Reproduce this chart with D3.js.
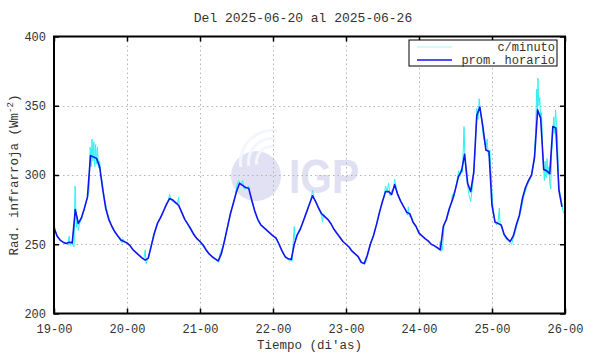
<!DOCTYPE html>
<html>
<head>
<meta charset="utf-8">
<script src="https://cdn.jsdelivr.net/npm/d3@7"></script>
<style>
  html, body { margin: 0; padding: 0; background: #ffffff; }
  svg { display: block; }
  text { font-family: "Liberation Mono", "DejaVu Sans Mono", monospace; fill: #333; }
</style>
</head>
<body>
<svg id="chart" width="590" height="354"></svg>
<script>
// ---------- data ----------
const titleText = "Del 2025-06-20 al 2025-06-26";
const xTickLabels = ["19-00", "20-00", "21-00", "22-00", "23-00", "24-00", "25-00", "26-00"];
const yTicks = [200, 250, 300, 350, 400];
const seriesNames = ["c/minuto", "prom. horario"];

// hourly average (prom. horario), one value per hour starting 19-00
const hourly = [
  262, 256, 253, 251.5, 250.5, 251.5, 251, 275, 265, 269, 276, 284, 314, 313, 312, 306, 290, 276, 268, 263, 259, 256, 253, 252,
  251, 249, 246, 244, 242, 240, 238.5, 240, 249, 258, 265, 269, 274, 279, 283, 282, 280, 278, 273, 268, 264.5, 261, 257, 254,
  252, 249.5, 246, 243, 241, 239.5, 238, 243, 252, 262, 272, 280, 288, 294, 292.5, 291, 290.5, 282, 274, 268, 264, 262, 260, 258,
  256, 254.5, 250, 245, 241, 239.5, 239, 250, 257, 261, 267, 273, 279, 285, 281, 276, 272, 270, 268, 265, 261, 258, 255, 252,
  250, 248, 245, 243, 241, 237, 236, 242, 250, 256, 264, 273, 281, 288, 288, 286, 293, 286, 281, 277, 273, 272, 266, 263,
  258, 256, 254, 252.5, 250, 249, 247.5, 246, 263, 268, 276, 282, 290, 299, 303, 315, 294, 288, 302, 343, 349, 335, 318, 317,
  278, 266, 265, 264, 257, 254, 252, 256, 264, 271, 283, 291, 296, 300, 313, 347, 341, 304, 303, 301, 335, 334, 289, 277
];

// per-minute series (c/minuto), sampled as [hour, value]
const minuteHours = [
  0, 0.5, 1.5, 2.5, 3.5, 4.5, 5, 5.3, 5.8, 6.2, 6.6, 6.9, 7.1, 7.3, 7.6, 8, 8.4, 9, 9.5, 10.5, 11.5, 11.9, 12.2, 12.5, 12.8, 13.1, 13.4, 13.7, 14, 14.3, 14.6, 15, 15.4, 15.8, 16.5, 17.5, 18.5, 19.5, 20.5, 21.5, 22.3, 22.6, 23.5,
  24.5, 25.5, 26.5, 27.5, 28.5, 29.5, 30, 30.3, 30.8, 31.5, 32.5, 33.5, 34.5, 35.5, 36.5, 37.5, 38, 38.5, 39.5, 40.5, 41, 41.2, 41.5, 42.5, 43.5, 44.5, 45.5, 46.5, 47.5,
  48.5, 49.5, 50.5, 51.5, 52.5, 53.5, 54.2, 54.5, 55.5, 56.5, 57.5, 58.5, 59.5, 60.3, 60.7, 61.5, 62, 62.5, 63.5, 64, 64.5, 65.5, 66.5, 67.5, 68.5, 69.5, 70.5, 71.5,
  72.5, 73.5, 74.5, 75.5, 76.5, 77.5, 78.3, 78.6, 79, 79.2, 80, 80.5, 81.5, 82.5, 83.5, 84.5, 85, 85.5, 86.5, 87.5, 88, 88.3, 88.6, 89.5, 90.5, 91.5, 92.5, 93.5, 94.5, 95.5,
  96.5, 97.5, 98.5, 99.5, 100.5, 101.5, 102.2, 102.8, 103.5, 104.5, 105.5, 106.5, 107.5, 108.5, 109, 109.5, 110, 110.5, 111, 111.6, 112, 112.4, 113, 113.8, 114.5, 115.5, 116.2, 116.5, 116.8, 117.5, 118.5, 119.5,
  120.5, 121.5, 122.5, 123.5, 124.5, 125.5, 126.5, 127, 127.3, 127.7, 128.3, 129, 129.5, 130.5, 131, 131.5, 132.5, 133, 133.4, 133.8, 134.3, 134.8, 135.1, 135.5, 136, 136.5, 137, 137.5, 138, 138.5, 139, 139.4, 139.8, 140.2, 140.6, 141, 141.5, 142, 142.4, 142.8, 143.3, 143.8,
  144.2, 144.6, 145, 145.5, 146, 146.4, 146.7, 147.2, 147.8, 148.5, 149.5, 150.5, 150.8, 151.5, 152.5, 153.5, 154.5, 155.5, 156.5, 157.2, 157.8, 158.3, 158.7, 158.9, 159.1, 159.4, 159.7, 160, 160.3, 160.6, 160.9, 161.2, 161.5, 161.8, 162.1, 162.4, 162.7, 163, 163.3, 163.6, 164, 164.3, 164.6, 164.9, 165.2, 165.5, 165.8, 166.1, 166.5, 166.9, 167.3, 167.8
];
const minuteValues = [
  266, 259, 254, 252, 251, 250, 256, 249, 252, 250, 248, 292, 285, 262, 270, 260, 265, 268, 272, 280, 288, 320, 306, 326, 310, 324, 306, 322, 308, 320, 305, 310, 300, 296, 284, 273, 266, 261, 257, 254, 251, 254, 251,
  250, 247, 245, 243, 241, 239, 246, 236, 239, 245, 255, 262, 268, 271, 276, 281, 286, 282, 280, 279, 284, 276, 276, 270, 266, 262, 258, 255, 253,
  250, 247, 244, 242, 240, 238, 237, 243, 248, 257, 267, 276, 284, 294, 296, 293, 296, 290, 291, 292, 286, 278, 270, 265, 263, 261, 259, 257,
  255, 252, 247, 243, 240, 238, 238, 250, 263, 253, 257, 260, 264, 270, 276, 283, 289, 283, 279, 274, 270, 266, 272, 269, 267, 263, 259, 256, 253, 251,
  249, 246, 244, 242, 239, 236, 236, 239, 246, 253, 260, 268, 277, 284, 292, 288, 294, 285, 289, 290, 297, 292, 286, 282, 279, 275, 271, 277, 270, 270, 264, 261,
  257, 255, 253, 251, 249.5, 248, 246, 252, 245, 246, 265, 267, 271, 279, 286, 284, 296, 303, 299, 304, 302, 335, 312, 300, 292, 285, 281, 290, 300, 320, 348, 340, 355, 345, 340, 330, 324, 320, 326, 314, 318, 296,
  280, 272, 266, 264, 266, 276, 264, 262, 258, 254, 252, 250, 253, 258, 266, 274, 285, 292, 297, 302, 310, 330, 362, 345, 370, 350, 356, 340, 345, 320, 308, 296, 310, 298, 312, 300, 306, 294, 290, 315, 330, 342, 330, 347, 338, 330, 300, 290, 285, 280, 274, 272
];

// ---------- chart ----------
const svg = d3.select("#chart");
const mLeft = 54, mRight = 565, mTop = 36.5, mBottom = 313.5;

const x = d3.scaleLinear().domain([0, 168]).range([mLeft, mRight]);
const y = d3.scaleLinear().domain([200, 400]).range([mBottom, mTop]);
const xTickVals = xTickLabels.map((d, i) => i * 24);

// watermark logo
const wm = svg.append("g").attr("class", "watermark");
wm.append("circle").attr("cx", 256).attr("cy", 176).attr("r", 25).attr("fill", "#e1e1f3");
[14, 22, 30].forEach((r) => {
  wm.append("path")
    .attr("d", d3.arc()({innerRadius: r, outerRadius: r + 3, startAngle: -Math.PI * 0.55, endAngle: Math.PI * 0.05}))
    .attr("transform", "translate(272,162)")
    .attr("fill", "#f3f6fd");
});
wm.append("text")
  .attr("x", 289).attr("y", 193)
  .attr("textLength", 70).attr("lengthAdjust", "spacingAndGlyphs")
  .style("font-family", "Liberation Sans, Arial, sans-serif")
  .style("font-weight", "bold").style("font-size", "48px")
  .style("fill", "#e0e0f2")
  .text("IGP");

// grid
const grid = svg.append("g").attr("stroke", "#b4b4b4").attr("stroke-width", 1).attr("stroke-dasharray", "1.5,3");
xTickVals.slice(1, -1).forEach(v => {
  grid.append("line").attr("x1", Math.round(x(v)) + 0.5).attr("x2", Math.round(x(v)) + 0.5).attr("y1", mTop).attr("y2", mBottom);
});
yTicks.slice(1, -1).forEach(v => {
  grid.append("line").attr("x1", mLeft).attr("x2", mRight).attr("y1", Math.round(y(v)) + 0.5).attr("y2", Math.round(y(v)) + 0.5);
});

// data lines
svg.append("clipPath").attr("id", "clip").append("rect")
  .attr("x", mLeft).attr("y", mTop).attr("width", mRight - mLeft).attr("height", mBottom - mTop);
const plot = svg.append("g").attr("clip-path", "url(#clip)");

const minutePts = minuteHours.map((h, i) => [h, minuteValues[i]]);
plot.append("path")
  .datum(minutePts)
  .attr("fill", "none").attr("stroke", "#2ff0f0").attr("stroke-width", 1)
  .attr("d", d3.line().x(d => x(d[0])).y(d => y(d[1])));

plot.append("path")
  .datum(hourly)
  .attr("fill", "none").attr("stroke", "#1414f0").attr("stroke-width", 1.6)
  .attr("stroke-linejoin", "round")
  .attr("d", d3.line().x((d, i) => x(i)).y(d => y(d)));

// axes (ticks inward, mirrored)
const axB = svg.append("g").attr("transform", `translate(0,${mBottom})`)
  .call(d3.axisBottom(x).tickValues(xTickVals).tickFormat((d, i) => xTickLabels[i]).tickSizeInner(-5).tickSizeOuter(0).tickPadding(11));
const axT = svg.append("g").attr("transform", `translate(0,${mTop})`)
  .call(d3.axisTop(x).tickValues(xTickVals).tickFormat("").tickSizeInner(-5).tickSizeOuter(0));
const axL = svg.append("g").attr("transform", `translate(${mLeft},0)`)
  .call(d3.axisLeft(y).tickValues(yTicks).tickFormat(d3.format("d")).tickSizeInner(-5).tickSizeOuter(0).tickPadding(8));
const axR = svg.append("g").attr("transform", `translate(${mRight},0)`)
  .call(d3.axisRight(y).tickValues(yTicks).tickFormat("").tickSizeInner(-5).tickSizeOuter(0));
[axB, axT, axL, axR].forEach(a => {
  a.select(".domain").remove();
  a.selectAll(".tick line").attr("stroke", "#000").attr("stroke-width", 1.5);
  a.selectAll("text").style("font-family", "Liberation Mono, monospace").style("font-size", "12px").attr("fill", "#333");
});

// border
svg.append("rect").attr("x", mLeft).attr("y", mTop).attr("width", mRight - mLeft).attr("height", mBottom - mTop)
  .attr("fill", "none").attr("stroke", "#000").attr("stroke-width", 2);

// title
svg.append("text").attr("x", 303).attr("y", 22).attr("text-anchor", "middle")
  .style("font-size", "13px").text(titleText);

// x label
svg.append("text").attr("x", (mLeft + mRight) / 2).attr("y", 349).attr("text-anchor", "middle")
  .style("font-size", "12.5px").text("Tiempo (di'as)");

// y label
const yl = svg.append("text").attr("transform", `translate(18,${(mTop + mBottom) / 2}) rotate(-90)`)
  .attr("text-anchor", "middle").style("font-size", "12.5px");
yl.append("tspan").text("Rad. infrarroja (Wm");
yl.append("tspan").attr("dy", -5).style("font-size", "9px").text("-2");
yl.append("tspan").attr("dy", 5).text(")");

// legend
const lg = svg.append("g");
lg.append("rect").attr("x", 409).attr("y", 40).attr("width", 148).attr("height", 26)
  .attr("fill", "#fff").attr("stroke", "#000").attr("stroke-width", 1);
const lgColors = ["#9ff8f8", "#1414f0"];
seriesNames.forEach((name, i) => {
  const yy = 47 + i * 13;
  lg.append("line").attr("x1", 417).attr("x2", 452).attr("y1", yy).attr("y2", yy)
    .attr("stroke", lgColors[i]).attr("stroke-width", i === 0 ? 1 : 1.5);
  lg.append("text").attr("x", 555).attr("y", yy + 4).attr("text-anchor", "end")
    .style("font-size", "12px").text(name);
});
</script>
</body>
</html>
